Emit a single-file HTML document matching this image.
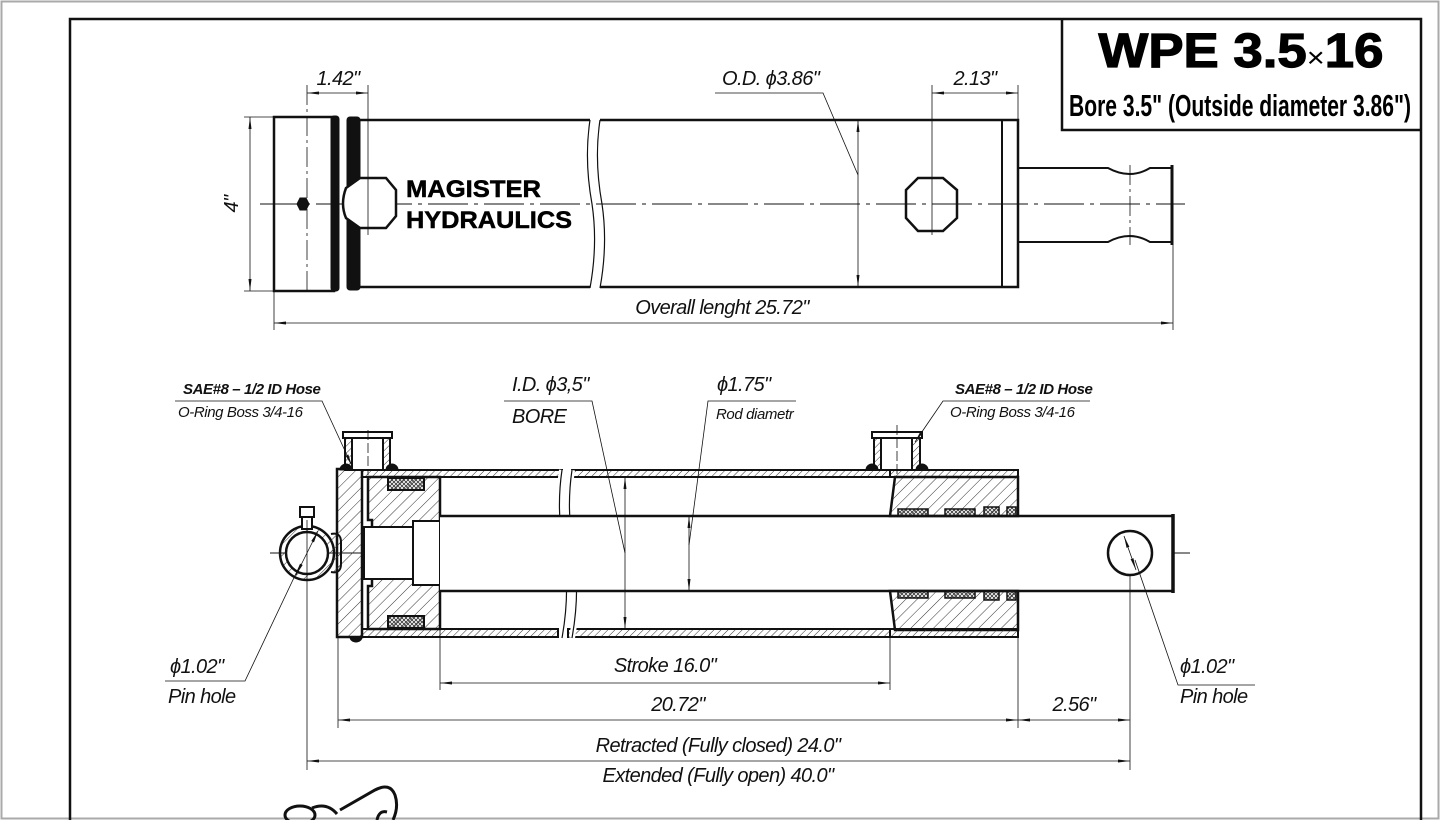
<!DOCTYPE html>
<html><head><meta charset="utf-8"><style>
html,body{margin:0;padding:0;background:#fff;width:1440px;height:820px;overflow:hidden}
svg{display:block}
.d{font-family:"Liberation Sans Narrow","Liberation Sans",sans-serif;font-style:italic;font-size:20px;fill:#111;letter-spacing:-0.6px}
.s{font-family:"Liberation Sans Narrow","Liberation Sans",sans-serif;font-style:italic;font-size:15px;fill:#111;letter-spacing:-0.4px}
</style></head><body>
<svg width="1440" height="820" viewBox="0 0 1440 820" xmlns="http://www.w3.org/2000/svg">
<defs>
<pattern id="h" width="8" height="8" patternUnits="userSpaceOnUse" patternTransform="rotate(45)"><line x1="0" y1="0" x2="0" y2="8" stroke="#333" stroke-width="1"/></pattern>
<pattern id="h2" width="5" height="5" patternUnits="userSpaceOnUse" patternTransform="rotate(45)"><line x1="0" y1="0" x2="0" y2="5" stroke="#333" stroke-width="1"/></pattern>
<pattern id="x" width="4" height="4" patternUnits="userSpaceOnUse"><path d="M0 0L4 4M4 0L0 4" stroke="#333" stroke-width="0.8"/></pattern>
<marker id="a" viewBox="0 0 12 6" refX="12" refY="3" markerWidth="12" markerHeight="6" orient="auto-start-reverse" markerUnits="userSpaceOnUse"><path d="M0 1.5L12 3L0 4.5z" fill="#111"/></marker>
</defs>
<rect x="1.5" y="1.5" width="1437" height="817" fill="none" stroke="#aaa" stroke-width="2"/>
<path d="M70 820V19H1421V820" fill="none" stroke="#111" stroke-width="2.5"/>
<path d="M1062 19V130H1421" fill="none" stroke="#111" stroke-width="2.5"/>
<text x="1241" y="67" text-anchor="middle" font-family="Liberation Sans,sans-serif" font-weight="bold" font-size="48" fill="#000" stroke="#000" stroke-width="1.2" textLength="285" lengthAdjust="spacingAndGlyphs">WPE 3.5<tspan font-size="28" font-weight="normal" stroke-width="0">×</tspan>16</text>
<text x="1240" y="116" text-anchor="middle" font-family="Liberation Sans Narrow,Liberation Sans,sans-serif" font-weight="bold" font-size="31" fill="#000" textLength="342" lengthAdjust="spacingAndGlyphs">Bore 3.5" (Outside diameter 3.86")</text>

<g stroke="#111" fill="none">
<line x1="260" y1="204" x2="1185" y2="204" stroke-width="1" stroke-dasharray="40 6 4 6"/>
<rect x="274" y="117" width="60" height="174" stroke-width="2.5"/>
<rect x="331" y="116" width="8" height="175" fill="#111" rx="3"/>
<rect x="347" y="117" width="13" height="173" fill="#111" rx="3"/>
<path d="M360 120H590 M600 120H1018V287H600 M590 287H360" stroke-width="2.5"/>
<path d="M590 120q-6 40 2 84q6 40 -2 84 M600 120q-6 40 2 84q6 40 -2 84" stroke-width="1.2"/>
<line x1="1002" y1="120" x2="1002" y2="287" stroke-width="2"/>
<path d="M360 178H386L396 190V216L386 228H360L346 218Q340 204 346 188Z" fill="#fff" stroke-width="2.5"/>
<path d="M918 178H943L957 190V218L943 231H918L906 218V190Z" stroke-width="2.5"/>
<path d="M1019 168H1108Q1130 180 1150 168H1172V242H1150Q1130 230 1108 242H1019" stroke-width="2"/>
<line x1="1172" y1="165" x2="1172" y2="245" stroke-width="3"/>
<polygon points="300,198 306,198 309,204 306,210 300,210 297,204" fill="#111"/>
<g stroke-width="0.8">
<line x1="307" y1="85" x2="307" y2="290" stroke-dasharray="20 4 3 4"/>
<line x1="368" y1="85" x2="368" y2="235"/>
<line x1="932" y1="85" x2="932" y2="235"/>
<line x1="1018" y1="85" x2="1018" y2="120"/>
<line x1="1130" y1="165" x2="1130" y2="245" stroke-dasharray="20 4 3 4"/>
<line x1="244" y1="117" x2="274" y2="117"/><line x1="244" y1="291" x2="274" y2="291"/>
<line x1="250" y1="117" x2="250" y2="291" marker-start="url(#a)" marker-end="url(#a)"/>
<line x1="307" y1="93" x2="368" y2="93" marker-start="url(#a)" marker-end="url(#a)"/>
<line x1="932" y1="93" x2="1018" y2="93" marker-start="url(#a)" marker-end="url(#a)"/>
<line x1="858" y1="120" x2="858" y2="287" marker-start="url(#a)" marker-end="url(#a)"/>
<path d="M715 93H823L858 175"/>
<line x1="274" y1="291" x2="274" y2="330"/><line x1="1173" y1="245" x2="1173" y2="330"/>
<line x1="274" y1="323" x2="1173" y2="323" marker-start="url(#a)" marker-end="url(#a)"/>
</g>
</g>
<text x="338" y="85" class="d" text-anchor="middle">1.42"</text>
<text x="975" y="85" class="d" text-anchor="middle">2.13"</text>
<text x="722" y="85" class="d">O.D. ϕ3.86"</text>
<text class="d" transform="translate(238,204) rotate(-90)" text-anchor="middle">4"</text>
<text x="722" y="314" class="d" text-anchor="middle">Overall lenght 25.72"</text>
<text x="406" y="197" font-family="Liberation Sans,sans-serif" font-weight="bold" font-size="24" fill="#000" stroke="#000" stroke-width="0.5" textLength="135" lengthAdjust="spacingAndGlyphs">MAGISTER</text>
<text x="406" y="228" font-family="Liberation Sans,sans-serif" font-weight="bold" font-size="24" fill="#000" stroke="#000" stroke-width="0.5" textLength="166" lengthAdjust="spacingAndGlyphs">HYDRAULICS</text>

<g stroke="#111" fill="none">
<line x1="270" y1="553" x2="1190" y2="553" stroke-width="1" stroke-dasharray="40 6 4 6"/>
<rect x="362" y="470" width="200" height="7" fill="url(#h2)" stroke-width="2"/>
<rect x="572" y="470" width="318" height="7" fill="url(#h2)" stroke-width="2"/>
<rect x="362" y="629" width="196" height="8" fill="url(#h2)" stroke-width="2"/>
<rect x="568" y="629" width="322" height="8" fill="url(#h2)" stroke-width="2"/>
<path d="M562 470q-6 40 2 84q6 40 -2 84 M572 470q-6 40 2 84q6 40 -2 84" stroke="#fff" stroke-width="6"/>
<path d="M562 470q-6 40 2 84q6 40 -2 84 M572 470q-6 40 2 84q6 40 -2 84" stroke-width="1.2"/>
<rect x="337" y="469" width="25" height="168" fill="url(#h)" stroke-width="2.5"/>
<circle cx="307" cy="553" r="27" fill="url(#h)" stroke-width="2.5"/>
<circle cx="307" cy="553" r="21" fill="#fff" stroke-width="2.5"/>
<path d="M331 534q10 -2 10 8v22q0 10 -10 8" fill="url(#h)" stroke-width="2"/>
<rect x="302" y="517" width="10" height="12" fill="#fff" stroke-width="2"/>
<rect x="300" y="507" width="14" height="10" fill="#fff" stroke-width="2"/>
<path d="M368 477H440V629H368V586H372V520H368Z" fill="url(#h)" stroke-width="2.5"/>
<rect x="388" y="478" width="36" height="12" fill="url(#x)" stroke-width="2"/>
<rect x="388" y="616" width="36" height="12" fill="url(#x)" stroke-width="2"/>
<rect x="364" y="527" width="50" height="52" fill="#fff" stroke-width="2"/>
<rect x="413" y="521" width="27" height="64" fill="#fff" stroke-width="2"/>
<path d="M440 516H1173V591H440" fill="#fff" stroke-width="2.5"/>
<line x1="1173" y1="514" x2="1173" y2="593" stroke-width="3.5"/>
<circle cx="1130" cy="553" r="22" stroke-width="2.5"/>
<path d="M895 477H1018V516H890Z" fill="url(#h)" stroke-width="2.5"/>
<path d="M890 591H1018V630H895Z" fill="url(#h)" stroke-width="2.5"/>
<rect x="890" y="470" width="128" height="7" fill="url(#h2)" stroke-width="2"/>
<rect x="890" y="629" width="128" height="8" fill="url(#h2)" stroke-width="2"/>
<g fill="url(#x)" stroke-width="1.5">
<rect x="898" y="509" width="30" height="7"/><rect x="945" y="509" width="30" height="7"/><rect x="984" y="507" width="15" height="9"/><rect x="1007" y="507" width="9" height="9"/>
<rect x="898" y="591" width="30" height="7"/><rect x="945" y="591" width="30" height="7"/><rect x="984" y="591" width="15" height="9"/><rect x="1007" y="591" width="9" height="9"/>
</g>
<g stroke-width="2">
<rect x="343" y="432" width="49" height="6" fill="#fff"/>
<rect x="345" y="438" width="45" height="32" fill="url(#h2)"/>
<rect x="352" y="438" width="31" height="32" fill="#fff"/>
<rect x="872" y="432" width="50" height="6" fill="#fff"/>
<rect x="874" y="438" width="46" height="32" fill="url(#h2)"/>
<rect x="881" y="438" width="31" height="32" fill="#fff"/>
</g>
<g fill="#111"><path d="M340 470a6 6 0 0 1 12 0z"/><path d="M386 470a6 6 0 0 1 12 0z"/><path d="M866 470a6 6 0 0 1 12 0z"/><path d="M916 470a6 6 0 0 1 12 0z"/><path d="M350 637a6 5 0 0 0 12 0z"/></g>
<g stroke-width="0.8">
<line x1="307" y1="520" x2="307" y2="770"/>
<line x1="338" y1="637" x2="338" y2="728"/>
<line x1="440" y1="591" x2="440" y2="690"/>
<line x1="890" y1="637" x2="890" y2="690"/>
<line x1="1018" y1="637" x2="1018" y2="728"/>
<line x1="1130" y1="575" x2="1130" y2="770"/>
<line x1="368" y1="430" x2="368" y2="475" stroke-dasharray="10 3"/>
<line x1="897" y1="425" x2="897" y2="475" stroke-dasharray="10 3"/>
<line x1="625" y1="477" x2="625" y2="629" marker-start="url(#a)" marker-end="url(#a)"/>
<line x1="689" y1="516" x2="689" y2="591" marker-start="url(#a)" marker-end="url(#a)"/>
<line x1="440" y1="683" x2="890" y2="683" marker-start="url(#a)" marker-end="url(#a)"/>
<line x1="338" y1="720" x2="1018" y2="720" marker-start="url(#a)" marker-end="url(#a)"/>
<line x1="1018" y1="720" x2="1130" y2="720" marker-start="url(#a)" marker-end="url(#a)"/>
<line x1="307" y1="761" x2="1130" y2="761" marker-start="url(#a)" marker-end="url(#a)"/>
<path d="M175 401H322L352 466" marker-end="url(#a)"/>
<path d="M504 401H592L625 553"/>
<path d="M796 401H708L689 545"/>
<path d="M1090 401H943L915 442" marker-end="url(#a)"/>
<path d="M165 681H245L300 565"/>
<path d="M1255 685H1178L1135 560"/>
<line x1="296" y1="575" x2="318" y2="531" marker-start="url(#a)" marker-end="url(#a)"/>
<line x1="1124" y1="536" x2="1136" y2="570" marker-start="url(#a)" marker-end="url(#a)"/>
</g>
</g>
<text x="183" y="394" class="s" font-weight="bold">SAE#8 – 1/2 ID Hose</text>
<text x="178" y="417" class="s">O-Ring Boss 3/4-16</text>
<text x="955" y="394" class="s" font-weight="bold">SAE#8 – 1/2 ID Hose</text>
<text x="950" y="417" class="s">O-Ring Boss 3/4-16</text>
<text x="512" y="391" class="d">I.D. ϕ3,5"</text>
<text x="512" y="423" class="d">BORE</text>
<text x="717" y="391" class="d">ϕ1.75"</text>
<text x="716" y="419" class="s" font-size="17">Rod diametr</text>
<text x="170" y="673" class="d">ϕ1.02"</text>
<text x="168" y="703" class="d">Pin hole</text>
<text x="1180" y="673" class="d">ϕ1.02"</text>
<text x="1180" y="703" class="d">Pin hole</text>
<text x="665" y="672" class="d" text-anchor="middle">Stroke 16.0"</text>
<text x="678" y="711" class="d" text-anchor="middle">20.72"</text>
<text x="1074" y="711" class="d" text-anchor="middle">2.56"</text>
<text x="718" y="752" class="d" text-anchor="middle">Retracted (Fully closed) 24.0"</text>
<text x="718" y="782" class="d" text-anchor="middle">Extended (Fully open) 40.0"</text>
<g stroke="#111" stroke-width="3" fill="none">
<ellipse cx="300" cy="815" rx="15" ry="9"/>
<path d="M312 808q15 -6 25 6M340 810l35 -20q15 -8 20 5q4 12 -2 25"/>
<path d="M377 820q2 -10 10 -8"/>
</g>
</svg>
</body></html>
